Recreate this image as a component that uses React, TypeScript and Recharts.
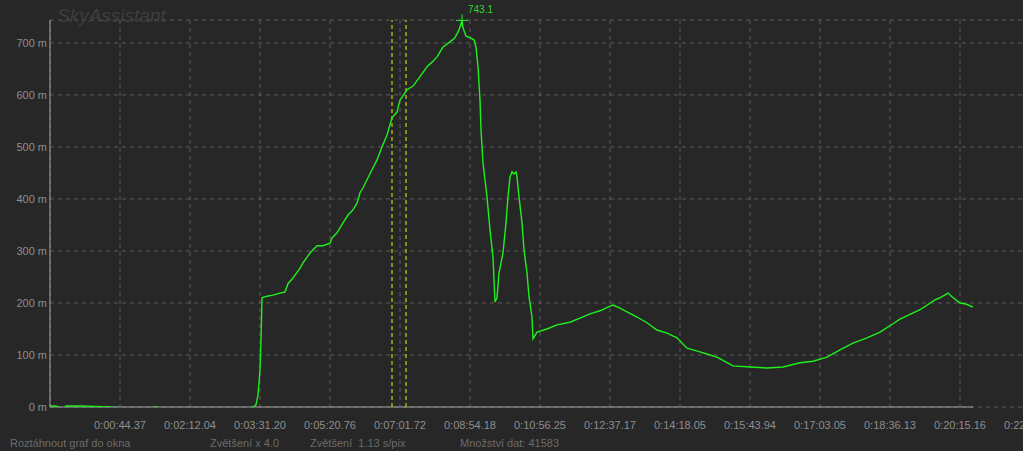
import { LineChart, Line, XAxis, YAxis, CartesianGrid, ReferenceLine, ReferenceDot } from "recharts";

// x is the sample position along the track, altitude in metres
const trackPos = [
  0, 6, 12, 16, 30, 45, 60, 70, 100, 105, 110, 150, 190, 200, 203, 206, 208, 210, 211, 212,
  217, 223, 230, 235, 238, 243, 250, 253, 260, 267, 273, 280, 282, 287, 293, 298, 303, 307, 310, 313,
  317, 322, 327, 332, 337, 342, 347, 350, 353, 357, 363, 370, 377, 382, 387, 393, 400, 405, 409, 412,
  413, 416, 420, 424, 426, 428, 430, 431, 433, 437, 440, 443, 444, 445, 447, 449, 453, 456, 458, 460,
  462, 464, 466, 467, 469, 472, 474, 477, 479, 482, 483, 487, 497, 507, 520, 530, 540, 550, 560, 563,
  570, 577, 587, 597, 607, 617, 627, 637, 650, 660, 667, 683, 700, 717, 733, 750, 763, 777, 790, 803,
  817, 830, 843, 850, 870, 885, 890, 898, 902, 910, 916, 923,
];
const altitude = [
  2, 2, -4, 2, 2, 1, 0, -2, -2, 0, -2, -2, -2, -2, 0, 4, 23, 71, 129, 210,
  213, 215, 219, 221, 237, 248, 267, 277, 296, 310, 310, 315, 325, 335, 354, 369, 379, 392, 412, 421,
  437, 456, 475, 500, 523, 556, 567, 590, 598, 610, 617, 635, 654, 663, 673, 692, 702, 710, 725, 743.1,
  729, 713, 710, 706, 692, 654, 590, 533, 469, 404, 340, 288, 244, 202, 210, 258, 296, 354, 404, 442,
  452, 448, 452, 442, 404, 354, 302, 258, 212, 173, 131, 144, 150, 158, 163, 171, 179, 185, 194, 196,
  190, 183, 173, 162, 148, 142, 133, 113, 106, 100, 96, 79, 77, 75, 77, 85, 88, 96, 110, 123,
  133, 144, 160, 169, 187, 206, 210, 219, 212, 200, 198, 192,
];

const timeTicks = [70, 140, 210, 280, 350, 420, 490, 560, 630, 700, 770, 840, 910, 980];
const timeLabels = [
  "0:00:44.37", "0:02:12.04", "0:03:31.20", "0:05:20.76", "0:07:01.72", "0:08:54.18", "0:10:56.25",
  "0:12:37.17", "0:14:18.05", "0:15:43.94", "0:17:03.05", "0:18:36.13", "0:20:15.16", "0:22:00.00",
];
const altTicks = [0, 100, 200, 300, 400, 500, 600, 700];
const cursorMarks = [342, 356];
const peakPos = 412;
const peakAlt = 743.1;

const data = trackPos.map((t, i) => ({ t, alt: altitude[i] }));

const PeakMark = (props: any) => {
  const { cx, cy } = props;
  return (
    <g>
      <line x1={cx - 6} x2={cx + 6} y1={cy} y2={cy} stroke="#22ee22" />
      <line x1={cx} x2={cx} y1={cy - 6} y2={cy + 6} stroke="#22ee22" />
      <text x={cx + 6} y={cy - 7} fill="#2ad42a" fontSize={10} fontFamily="Liberation Sans">
        {peakAlt}
      </text>
    </g>
  );
};

const status = { position: "absolute" as const, top: 437, fontSize: 11, color: "#6c6c6c" };

export default function App() {
  return (
    <div
      style={{
        position: "fixed",
        left: 0,
        top: 0,
        width: 1023,
        height: 451,
        overflow: "hidden",
        background: "#272727",
        fontFamily: "Liberation Sans",
      }}
    >
      <LineChart width={1080} height={451} data={data} margin={{ top: 20, right: 0, bottom: 14, left: 0 }}>
        <CartesianGrid stroke="#5c5c5c" strokeDasharray="4 4" />
        <XAxis
          dataKey="t"
          type="number"
          domain={[0, 1030]}
          allowDataOverflow
          ticks={timeTicks}
          interval={0}
          tickFormatter={(v: number) => timeLabels[timeTicks.indexOf(v)]}
          axisLine={false}
          tickLine={false}
          tickSize={0}
          tickMargin={14}
          height={30}
          tick={{ fill: "#8e8e8e", fontSize: 11, fontFamily: "Liberation Sans" }}
        />
        <YAxis
          type="number"
          domain={[0, 744]}
          allowDataOverflow
          ticks={altTicks}
          interval={0}
          width={50}
          tickFormatter={(v: number) => `${v} m`}
          axisLine={{ stroke: "#a4a4a4" }}
          tickLine={false}
          tickSize={0}
          tickMargin={3}
          tick={{ fill: "#8e8e8e", fontSize: 11, fontFamily: "Liberation Sans" }}
        />
        <ReferenceLine
          segment={[{ x: 0, y: 0 }, { x: 923, y: 0 }]}
          stroke="#a4a4a4"
          ifOverflow="visible"
        />
        {cursorMarks.map((m) => (
          <ReferenceLine key={m} x={m} stroke="#f2f200" strokeDasharray="4 3" />
        ))}
        <Line
          dataKey="alt"
          stroke="#1ef01e"
          strokeWidth={1.4}
          dot={false}
          type="linear"
          isAnimationActive={false}
        />
        <ReferenceDot x={peakPos} y={peakAlt} r={6} ifOverflow="visible" shape={<PeakMark />} />
      </LineChart>
      <div
        style={{
          position: "absolute",
          left: 57,
          top: 5,
          fontSize: 19,
          fontStyle: "italic",
          color: "#3e3e3e",
        }}
      >
        SkyAssistant
      </div>
      <div style={{ ...status, left: 10 }}>Roztáhnout graf do okna</div>
      <div style={{ ...status, left: 210 }}>Zvětšení x 4.0</div>
      <div style={{ ...status, left: 310 }}>Zvětšení&nbsp;&nbsp;1.13 s/pix</div>
      <div style={{ ...status, left: 460 }}>Množství dat: 41583</div>
    </div>
  );
}
